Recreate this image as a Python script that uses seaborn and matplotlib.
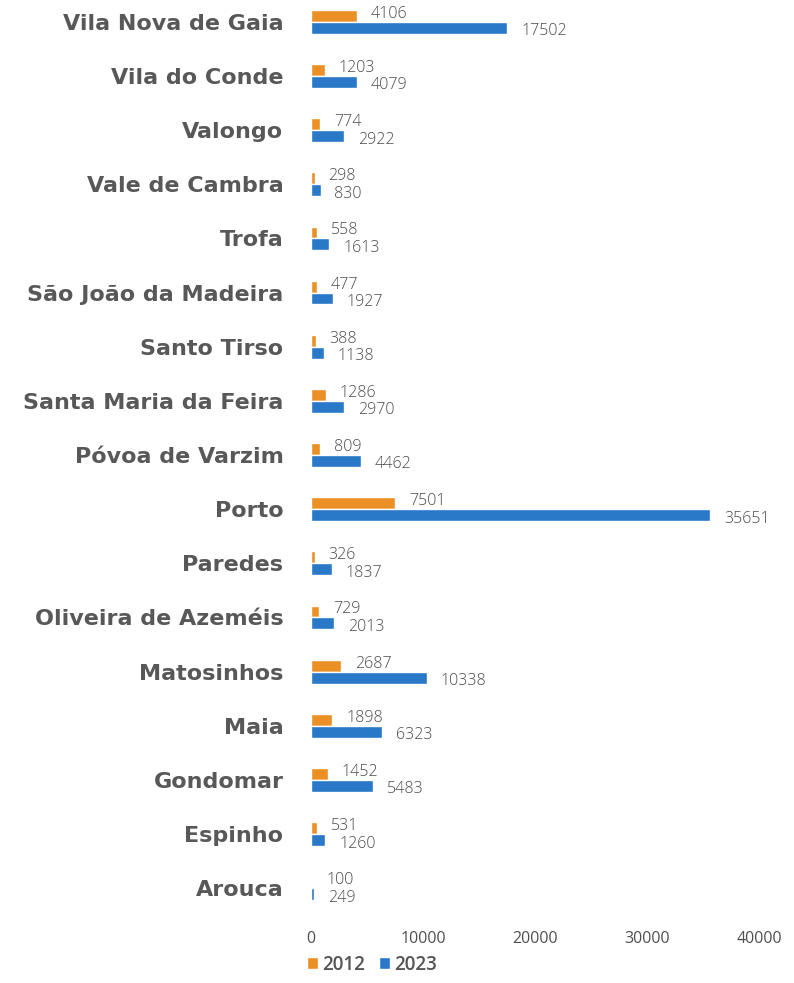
import pandas as pd
import matplotlib.pyplot as plt
import seaborn as sns

# data, top to bottom as in the chart
concelhos = ['Vila Nova de Gaia', 'Vila do Conde', 'Valongo', 'Vale de Cambra', 'Trofa',
             'São João da Madeira', 'Santo Tirso', 'Santa Maria da Feira', 'Póvoa de Varzim',
             'Porto', 'Paredes', 'Oliveira de Azeméis', 'Matosinhos', 'Maia', 'Gondomar',
             'Espinho', 'Arouca']
v2012 = [4106, 1203, 774, 298, 558, 477, 388, 1286, 809, 7501, 326, 729, 2687, 1898, 1452, 531, 100]
v2023 = [17502, 4079, 2922, 830, 1613, 1927, 1138, 2970, 4462, 35651, 1837, 2013, 10338, 6323, 5483, 1260, 249]
anos = ['2012', '2023']
cores = ['#EA9025', '#2A78C8']

df = pd.DataFrame({'Concelho': concelhos * 2,
                   'Ano': ['2012'] * len(concelhos) + ['2023'] * len(concelhos),
                   'Valor': v2012 + v2023})

sns.set_style('white')
plt.rcParams['font.family'] = ['Open Sans', 'DejaVu Sans']

fig = plt.figure(figsize=(7.94, 9.83), dpi=100)
ax = fig.add_axes([0.392, 0.0793, 0.564, 0.9156])

sns.barplot(data=df, y='Concelho', x='Valor', hue='Ano', order=concelhos, hue_order=anos,
            palette=cores, saturation=1, orient='h', width=0.44, gap=0, ax=ax, legend=True)

# value labels: 2012 slightly above, 2023 slightly below
offsets = [(10, 1.5), (10, -2.5)]
for cont, (dx, dy) in zip(ax.containers, offsets):
    for bar in cont:
        w = bar.get_width()
        yc = bar.get_y() + bar.get_height() / 2
        ax.annotate(f'{int(w)}', (w, yc), xytext=(dx, dy), textcoords='offset points',
                    va='center', ha='left', fontsize=11.5, color='#4a4a4a', fontweight='light')

ax.set_xlim(0, 40000)
ax.set_ylim(16.31, -0.31)
ax.set_xticks([0, 10000, 20000, 30000, 40000])
ax.set_xlabel('')
ax.set_ylabel('')
sns.despine(ax=ax, left=True, bottom=True, top=True, right=True)
ax.tick_params(axis='y', length=0, pad=20, labelcolor='#585858')
ax.tick_params(axis='x', length=0, pad=19, labelsize=11.5, labelcolor='#4f4f4f')
for lab in ax.get_yticklabels():
    lab.set_fontfamily('DejaVu Sans')
    lab.set_fontweight('bold')
    lab.set_fontsize(16)

leg = ax.legend(loc='lower left', bbox_to_anchor=(0.365, -0.009), bbox_transform=fig.transFigure,
                ncol=2, frameon=False, fontsize=13.5, handlelength=0.6, handleheight=0.6,
                handletextpad=0.25, columnspacing=0.7, labelcolor='#555555')
for t in leg.get_texts():
    t.set_fontweight('semibold')

fig.savefig('out.png', dpi=100)
